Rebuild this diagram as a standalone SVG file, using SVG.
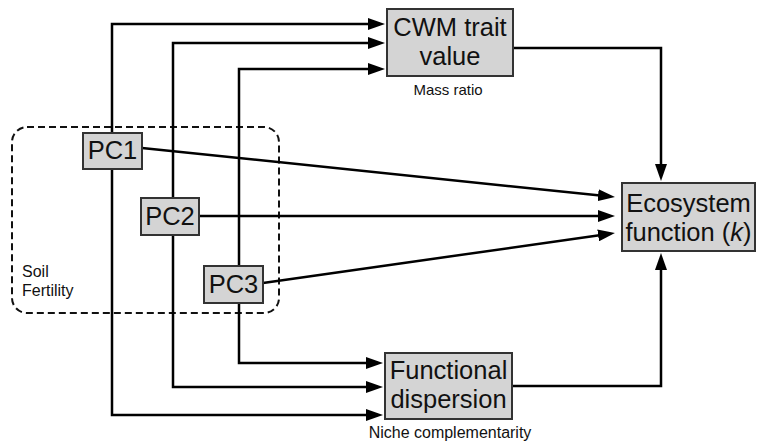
<svg xmlns="http://www.w3.org/2000/svg" width="762" height="443" viewBox="0 0 762 443">
  <style>
    .box { fill: #d4d4d4; stroke: #333333; stroke-width: 2; }
    .big { font-family: "Liberation Sans", Arial, sans-serif; font-size: 25.5px; fill: #111111; text-anchor: middle; }
    .small { font-family: "Liberation Sans", Arial, sans-serif; font-size: 15px; fill: #111111; }
    .note { font-size: 16px; }
    .wire { fill: none; stroke: #000000; stroke-width: 2.5; marker-end: url(#arrow); }
    .group { fill: none; stroke: #111111; stroke-width: 2; stroke-dasharray: 7 4; }
  </style>
  <defs>
    <marker id="arrow" markerUnits="userSpaceOnUse" markerWidth="17" markerHeight="12" refX="12" refY="6" orient="auto">
      <path d="M0,0 L17,6 L0,12 z" fill="#000000"/>
    </marker>
  </defs>
  <rect width="762" height="443" fill="#ffffff"/>

  <!-- Soil fertility grouping -->
  <g id="soil-fertility">
    <rect class="group" x="12" y="127" width="267" height="186" rx="15" ry="15"/>
    <text class="small note" x="22" y="277">Soil</text>
    <text class="small note" x="22" y="296">Fertility</text>
  </g>

  <!-- Connectors -->
  <g id="connectors">
    <path class="wire" d="M112,133 V24 H380"/>
    <path class="wire" d="M173,198 V43 H380"/>
    <path class="wire" d="M239,266 V69 H380"/>
    <path class="wire" d="M112,169 V415 H378"/>
    <path class="wire" d="M173,235 V387 H378"/>
    <path class="wire" d="M239,303 V363 H378"/>
    <path class="wire" d="M142,148 L610,196.5"/>
    <path class="wire" d="M199,216 H610"/>
    <path class="wire" d="M263,283 L610,233.7"/>
    <path class="wire" d="M513,48 H661 V176"/>
    <path class="wire" d="M512,386 H661 V258"/>
  </g>

  <!-- Nodes -->
  <g id="pc1">
    <rect class="box" x="83" y="133" width="59" height="36"/>
    <text class="big" x="112.5" y="159">PC1</text>
  </g>
  <g id="pc2">
    <rect class="box" x="141" y="198" width="58" height="37"/>
    <text class="big" x="170" y="225">PC2</text>
  </g>
  <g id="pc3">
    <rect class="box" x="204" y="266" width="59" height="37"/>
    <text class="big" x="233.5" y="293">PC3</text>
  </g>
  <g id="cwm">
    <rect class="box" x="387" y="9" width="126" height="67"/>
    <text class="big" x="450" y="36">CWM trait</text>
    <text class="big" x="450" y="65">value</text>
    <text class="small" x="448" y="95" text-anchor="middle">Mass ratio</text>
  </g>
  <g id="functional-dispersion">
    <rect class="box" x="385" y="353" width="127" height="66"/>
    <text class="big" x="448.5" y="379">Functional</text>
    <text class="big" x="448.5" y="408">dispersion</text>
    <text class="small note" x="450" y="438" text-anchor="middle">Niche complementarity</text>
  </g>
  <g id="ecosystem-function">
    <rect class="box" x="622" y="183" width="133" height="68"/>
    <text class="big" x="688.5" y="212">Ecosystem</text>
    <text class="big" x="688.5" y="241">function (<tspan font-style="italic">k</tspan>)</text>
  </g>
</svg>
